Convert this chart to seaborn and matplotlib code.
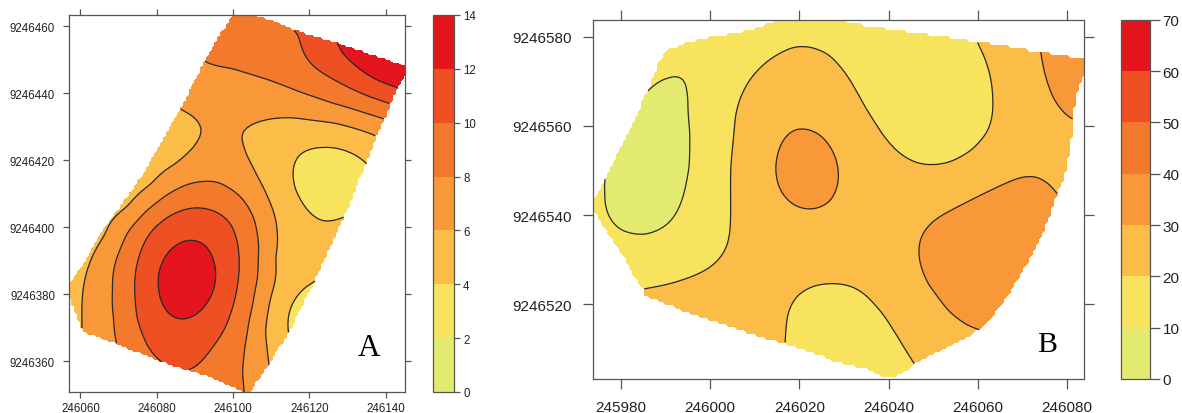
import numpy as np
import matplotlib
matplotlib.use("Agg")
import matplotlib.pyplot as plt
from matplotlib.colors import ListedColormap, BoundaryNorm
from matplotlib.cm import ScalarMappable
from matplotlib.path import Path
from matplotlib.ticker import FixedLocator, FuncFormatter
import seaborn as sns

# ---------------------------------------------------------------------------
# Survey readings.  Panel A: easting offset from 246000, northing offset from
# 9246000.  Panel B: easting offset from 246000, northing offset from 9246500.
# Points listed under a_isoNN / b_isoNN were measured at value NN.
# ---------------------------------------------------------------------------
A_E0, A_N0 = 246000.0, 9246000.0
B_E0, B_N0 = 246000.0, 9246500.0

a_levels = [0, 2, 4, 6, 8, 10, 12, 14]
b_levels = [0, 10, 20, 30, 40, 50, 60, 70]

a_iso12 = [(127.5, 454.7), (129.7, 450.3), (133.2, 446.8), (137.6, 443.8), (142.8, 441.8),
           (88.3, 396.3), (92.6, 394.5), (94.8, 389.6), (95.2, 383.6), (93.1, 377.6),
           (88.7, 373.2), (84.3, 373.2), (81.3, 377.6), (80.4, 383.6), (81.7, 389.6), (84.8, 394.1)]
a_iso10 = [(117.9, 458.2), (118.4, 453.3), (121.0, 448.3), (126.2, 444.3), (133.2, 440.3), (141.5, 436.8),
           (82.1, 359.2), (77.3, 364.7), (74.7, 372.6), (74.0, 381.6), (75.2, 390.6), (78.2, 398.5),
           (82.6, 403.0), (87.8, 405.5), (93.9, 405.3), (99.2, 401.5), (101.3, 394.5), (101.6, 386.6),
           (100.5, 378.6), (98.3, 370.7), (94.8, 364.7), (88.7, 357.4)]
a_iso8 = [(93.1, 449.0), (100.0, 447.8), (108.8, 444.3), (117.5, 440.3), (126.2, 436.8), (135.0, 433.9),
          (139.8, 432.4),
          (69.9, 364.7), (69.0, 372.6), (68.6, 381.6), (69.5, 390.6), (72.1, 398.5), (76.5, 404.5),
          (82.6, 410.0), (87.8, 413.0), (93.1, 413.4), (98.3, 412.0), (102.7, 408.5), (105.7, 402.5),
          (107.0, 394.5), (106.6, 385.6), (105.3, 376.6), (104.0, 368.7), (103.1, 360.7), (103.4, 350.8)]
a_iso6 = [(137.6, 427.4), (126.2, 431.4), (115.8, 432.9), (107.9, 431.9), (103.1, 429.4), (101.8, 426.4),
          (103.1, 421.4), (106.1, 415.4), (109.2, 408.5), (111.4, 398.5), (111.4, 388.6), (109.6, 378.6),
          (108.3, 368.7), (109.2, 358.3),
          (85.6, 435.3), (88.7, 433.9), (90.9, 430.4), (91.3, 427.4), (89.6, 423.4), (85.2, 418.4),
          (79.1, 412.5), (73.0, 405.5), (66.9, 397.5), (62.9, 390.6), (60.8, 382.6), (60.3, 374.6),
          (60.6, 369.2)]
a_iso4 = [(135.0, 418.9), (130.6, 422.4), (126.2, 423.9), (121.0, 423.9), (117.5, 421.9), (115.6, 417.4),
          (116.2, 411.4), (119.2, 405.4), (123.2, 401.5), (126.2, 402.5), (130.1, 406.3),
          (121.4, 382.6), (118.4, 381.6), (115.8, 378.1), (114.4, 373.6), (114.2, 368.7)]
a_spots = [(87.8, 384.6, 13.8), (143.7, 451.3, 14.6), (137.0, 452.0, 13.3), (130.0, 446.2, 11.0),
           (122.8, 452.3, 11.0), (100.0, 456.2, 9.0), (110.0, 452.0, 9.2), (130.0, 438.8, 9.0),
           (100.0, 438.3, 7.0), (96.5, 421.4, 7.3), (121.9, 435.3, 7.0), (91.3, 439.3, 7.0),
           (94.0, 418.0, 7.3), (121.0, 427.4, 5.0), (111.4, 418.4, 5.0), (113.1, 390.6, 5.0),
           (121.9, 392.5, 4.6), (112.3, 363.7, 5.0), (125.4, 413.4, 3.0), (131.5, 413.0, 3.2),
           (117.5, 374.6, 3.4), (122.0, 373.0, 3.0), (87.4, 429.4, 5.3), (57.5, 381.6, 5.3),
           (78.0, 422.0, 5.3), (66.0, 405.0, 5.3), (64.7, 378.6, 7.0), (66.2, 390.6, 7.0),
           (74.8, 405.5, 7.0), (64.5, 366.5, 7.0), (108.6, 400.0, 7.0), (106.2, 365.0, 7.0),
           (108.8, 385.0, 7.0), (71.5, 380.0, 9.0), (73.6, 364.7, 9.0), (103.0, 378.0, 9.0),
           (87.8, 409.2, 9.0), (97.5, 360.0, 9.0), (77.5, 381.6, 11.0), (88.0, 400.9, 11.0),
           (98.5, 384.0, 11.0), (87.0, 365.0, 11.0)]
a_outline = [(100.5, 465.0), (108.3, 462.7), (117.9, 458.4), (126.7, 455.4), (146.5, 448.0),
             (142.8, 440.3), (140.2, 432.9), (137.6, 426.4), (135.0, 418.9), (130.6, 406.5),
             (126.2, 395.5), (121.9, 384.6), (114.9, 368.7), (108.8, 357.7), (104.2, 350.0),
             (94.8, 354.7), (82.1, 359.2), (69.9, 364.7), (60.3, 368.9), (56.0, 381.6),
             (60.8, 389.6), (65.1, 398.5), (70.4, 406.5), (76.5, 416.4), (82.6, 428.4),
             (86.1, 435.3), (91.3, 447.3), (95.7, 456.2)]

b_iso10 = [(-7.70, 72.74), (-5.26, 71.25), (-4.47, 66.02), (-4.28, 58.55), (-4.47, 51.07), (-6.23, 43.60),
           (-10.14, 37.62), (-15.02, 35.01), (-19.91, 36.13), (-22.64, 39.86), (-23.03, 45.10),
           (-21.86, 52.57), (-18.93, 59.29), (-15.02, 66.02), (-11.12, 70.50)]
b_iso20 = [(-15.51, 23.43), (-6.23, 25.67), (0.60, 28.66), (3.53, 32.39), (4.51, 39.86), (4.51, 51.07),
           (5.49, 62.28), (8.42, 69.75), (13.30, 74.98), (18.80, 77.97), (22.40, 78.12), (26.50, 76.48),
           (30.88, 71.25), (34.79, 63.78), (38.70, 57.80), (43.58, 53.31), (48.46, 51.22), (53.35, 51.45),
           (58.23, 54.06), (62.13, 58.55), (63.31, 64.52), (62.92, 71.25), (61.65, 75.73), (59.99, 78.35),
           (17.01, 10.72), (17.21, 18.20), (19.16, 21.93), (23.07, 24.17), (27.95, 24.55), (32.84, 23.43),
           (36.74, 19.69), (40.65, 14.46), (43.58, 9.98), (45.73, 6.62)]
b_iso30 = [(19.16, 59.67), (25.02, 57.80), (27.95, 53.31), (28.73, 47.34), (26.98, 42.85), (22.58, 41.36),
           (18.19, 42.85), (15.25, 46.59), (14.77, 51.82), (16.23, 57.05),
           (74.05, 76.33), (74.83, 71.99), (76.78, 66.02), (79.71, 61.16), (82.16, 61.68),
           (77.28, 43.23), (76.78, 47.34), (73.86, 49.58), (69.95, 48.83), (60.18, 44.35), (50.42, 39.12),
           (46.99, 34.63), (46.70, 30.15), (48.46, 24.17), (53.35, 18.20), (57.74, 14.83), (61.16, 14.46)]
b_spots = [(-13.56, 52.57, 7.0), (-17.95, 47.34, 7.2), (-10.0, 62.0, 8.0),
           (-0.37, 66.02, 15.0), (-0.37, 43.60, 15.0), (11.35, 80.21, 17.0), (45.53, 69.75, 14.0),
           (50.42, 62.28, 15.0), (35.77, 76.48, 16.0), (-9.16, 75.73, 15.0), (-15.99, 29.40, 16.0),
           (-5.26, 31.65, 15.0), (24.0, 81.5, 17.5),
           (11.35, 58.55, 25.0), (21.12, 66.02, 25.0), (35.77, 43.60, 25.0), (21.12, 32.39, 25.0),
           (11.35, 24.90, 24.0), (46.51, 21.19, 25.0), (69.95, 66.02, 25.0), (74.83, 54.81, 26.0),
           (40.65, 30.15, 25.0), (65.07, 78.72, 24.0), (0.0, 22.0, 24.0), (8.0, 17.0, 25.0),
           (78.0, 52.0, 26.0), (52.0, 11.0, 24.0),
           (21.60, 50.33, 33.5), (80.69, 71.25, 33.0), (83.62, 74.98, 34.0),
           (62.13, 36.13, 36.0), (69.95, 39.86, 35.0), (55.0, 28.0, 35.0),
           (28.93, 13.71, 15.0), (30.88, 7.0, 15.0), (38.0, 4.5, 17.0)]
b_outline = [(-10.14, 76.86), (-5.27, 78.88), (0.69, 80.20), (9.66, 81.88), (17.15, 84.5), (24.62, 84.5),
             (34.32, 82.85), (47.04, 80.99), (62.00, 78.74), (76.18, 76.50), (84.5, 75.2), (84.5, 72.5),
             (82.17, 66.77), (81.41, 58.57), (80.29, 51.08), (77.69, 43.62), (75.44, 37.63), (70.96, 28.67),
             (66.47, 21.20), (61.23, 14.48), (53.02, 10.00), (46.30, 6.63), (42.55, 4.00), (39.57, 3.00),
             (34.32, 5.50), (29.10, 6.63), (17.15, 10.73), (5.17, 14.48), (-6.04, 18.20), (-14.99, 21.94),
             (-15.36, 23.44), (-17.25, 26.40), (-20.23, 31.67), (-24.71, 38.40), (-26.0, 40.64),
             (-26.0, 43.62), (-24.71, 46.60), (-20.97, 54.09), (-15.74, 64.53), (-12.00, 73.50)]

band_colors = ["#E2EA6F", "#F7E35D", "#FBBC48", "#F89838", "#F3792D", "#EE4F23", "#E4151C"]


def gather(isolines, spots):
    """Stack isoline readings and spot readings into x, y, value arrays."""
    xs, ys, zs = [], [], []
    for level, pts in isolines:
        for x, y in pts:
            xs.append(x); ys.append(y); zs.append(level)
    for x, y, z in spots:
        xs.append(x); ys.append(y); zs.append(z)
    return np.array(xs), np.array(ys), np.array(zs)


def thin_plate(x, y, z, gx, gy, smooth):
    """Smoothing thin-plate spline surface through scattered readings."""
    cx, cy = x.mean(), y.mean()
    x, y = x - cx, y - cy
    gx, gy = gx - cx, gy - cy
    n = len(x)
    d = np.hypot(x[:, None] - x[None, :], y[:, None] - y[None, :])
    with np.errstate(divide="ignore", invalid="ignore"):
        K = np.where(d > 0, d ** 2 * np.log(d), 0.0)
    P = np.column_stack([np.ones(n), x, y])
    M = np.zeros((n + 3, n + 3))
    M[:n, :n] = K + smooth * np.eye(n)
    M[:n, n:] = P
    M[n:, :n] = P.T
    sol = np.linalg.solve(M, np.concatenate([z, np.zeros(3)]))
    w, a = sol[:n], sol[n:]
    fx, fy = gx.ravel(), gy.ravel()
    out = a[0] + a[1] * fx + a[2] * fy
    for i in range(0, len(fx), 20000):
        sx, sy = fx[i:i + 20000], fy[i:i + 20000]
        dd = np.hypot(sx[:, None] - x[None, :], sy[:, None] - y[None, :])
        with np.errstate(divide="ignore", invalid="ignore"):
            kk = np.where(dd > 0, dd ** 2 * np.log(dd), 0.0)
        out[i:i + 20000] += kk @ w
    return out.reshape(gx.shape)


sns.set_style("ticks")
plt.rcParams["font.family"] = ["Liberation Sans", "DejaVu Sans"]

W, H = 1182, 414
fig = plt.figure(figsize=(W / 100, H / 100), dpi=100)


def frac(left, top, right, bottom):
    return [left / W, 1 - bottom / H, (right - left) / W, (bottom - top) / H]


def draw_panel(ax_rect, cb_rect, isolines, spots, outline, e0, n0, levels,
               xlim, ylim, xticks, yticks, step, smooth, tick_fs, cb_fs, tick_len, xpad, ypad,
               letter, letter_xy, letter_fs):
    ax = fig.add_axes(frac(*ax_rect))
    cax = fig.add_axes(frac(*cb_rect))
    x, y, z = gather(isolines, spots)
    gx1 = np.arange(xlim[0] - e0 - 3, xlim[1] - e0 + 3, step)
    gy1 = np.arange(ylim[0] - n0 - 3, ylim[1] - n0 + 3, step)
    GX, GY = np.meshgrid(gx1, gy1)
    Z = thin_plate(x, y, z, GX, GY, smooth)
    lo, hi = levels[0], levels[-1]
    Z = np.clip(Z, lo + 1e-3 * (hi - lo), hi - 1e-3 * (hi - lo))
    inside = Path(np.array(outline)).contains_points(np.column_stack([GX.ravel(), GY.ravel()]))
    Zm = np.ma.array(Z, mask=~inside.reshape(Z.shape))
    palette = sns.color_palette(band_colors)
    ax.contourf(GX + e0, GY + n0, Zm, levels=levels, colors=palette, antialiased=False)
    ax.contour(GX + e0, GY + n0, Zm, levels=levels[1:-1], colors="#2a2a2a", linewidths=0.9)
    ax.set_xlim(*xlim)
    ax.set_ylim(*ylim)
    ax.xaxis.set_major_locator(FixedLocator(xticks))
    ax.yaxis.set_major_locator(FixedLocator(yticks))
    fmt = FuncFormatter(lambda v, p: f"{int(round(v))}")
    ax.xaxis.set_major_formatter(fmt)
    ax.yaxis.set_major_formatter(fmt)
    ax.tick_params(direction="out", length=tick_len, width=0.9, color="#555555",
                   top=True, right=True, labeltop=False, labelright=False,
                   labelsize=tick_fs, labelcolor="#222222")
    ax.tick_params(axis="x", pad=xpad)
    ax.tick_params(axis="y", pad=ypad)
    for s in ax.spines.values():
        s.set_visible(True)
        s.set_color("#555555")
        s.set_linewidth(0.9)
    ax.set_facecolor("white")
    ax.text(letter_xy[0], letter_xy[1], letter, transform=ax.transAxes, ha="center",
            va="baseline", fontsize=letter_fs, family=["Liberation Serif", "DejaVu Serif"], color="black")

    cmap = ListedColormap(band_colors)
    norm = BoundaryNorm(levels, cmap.N)
    cb = fig.colorbar(ScalarMappable(norm=norm, cmap=cmap), cax=cax, ticks=levels)
    cb.outline.set_edgecolor("#555555")
    cb.outline.set_linewidth(0.9)
    cax.tick_params(direction="out", length=tick_len, width=0.9, color="#555555",
                    labelsize=cb_fs, labelcolor="#222222", pad=2)
    return ax


draw_panel((69, 16, 405, 393), (433, 16, 454, 393),
           [(12, a_iso12), (10, a_iso10), (8, a_iso8), (6, a_iso6), (4, a_iso4)], a_spots,
           a_outline, A_E0, A_N0, a_levels,
           (246057.0, 246145.1), (9246350.8, 9246463.4),
           [246060, 246080, 246100, 246120, 246140],
           [9246360, 9246380, 9246400, 9246420, 9246440, 9246460],
           0.75, 30.0, 8.3, 8.3, 4.5, 2.5, 5.5, "A", (0.893, 0.098), 22.5)

draw_panel((592.7, 20.7, 1084, 380), (1121, 20.7, 1150, 380),
           [(10, b_iso10), (20, b_iso20), (30, b_iso30)], b_spots,
           b_outline, B_E0, B_N0, b_levels,
           (245973.65, 246083.8), (9246503.25, 9246583.8),
           [245980, 246000, 246020, 246040, 246060, 246080],
           [9246520, 9246540, 9246560, 9246580],
           0.7, 30.0, 11, 11, 7, 8, 8, "B", (0.925, 0.078), 21.5)

fig.savefig("out.png", dpi=100, facecolor="white")
